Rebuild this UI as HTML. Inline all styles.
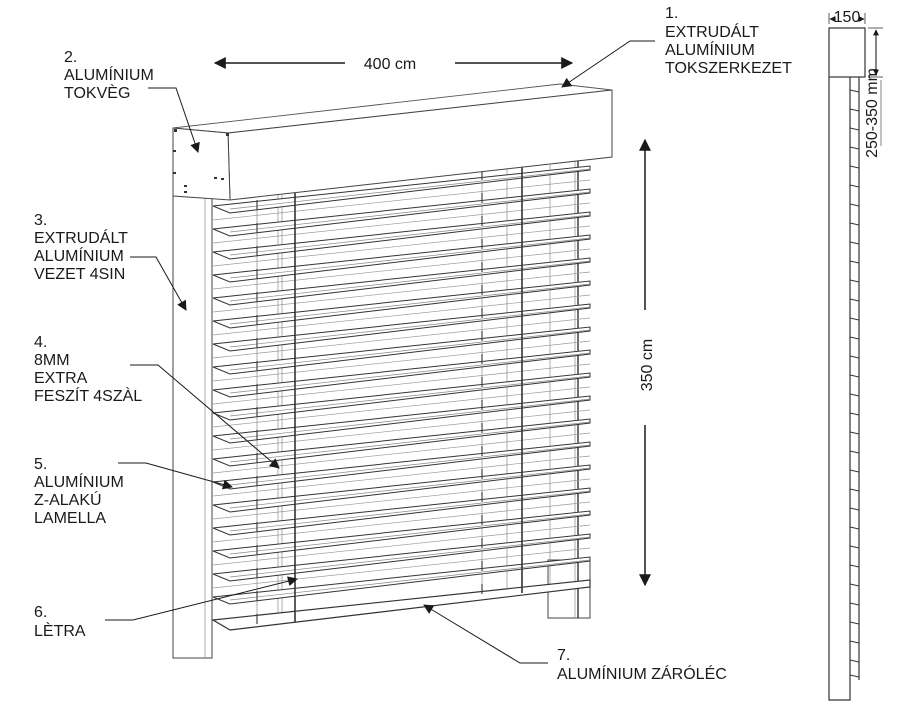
<!DOCTYPE html>
<html><head><meta charset="utf-8">
<style>
html,body{margin:0;padding:0;background:#fff;}
svg{display:block}
text{font-family:"Liberation Sans",Arial,sans-serif;fill:#1a1a1a;font-size:16px}
</style></head>
<body>
<svg width="900" height="707" viewBox="0 0 900 707" xmlns="http://www.w3.org/2000/svg">
<defs>
<marker id="ah" viewBox="0 0 10 10" refX="9" refY="5" markerWidth="13" markerHeight="10" orient="auto-start-reverse" markerUnits="userSpaceOnUse">
<path d="M0,0 L10,5 L0,10 z" fill="#1a1a1a"/></marker>
<marker id="as" viewBox="0 0 10 10" refX="9" refY="5" markerWidth="7" markerHeight="6" orient="auto-start-reverse" markerUnits="userSpaceOnUse">
<path d="M0,0 L10,5 L0,10 z" fill="#1a1a1a"/></marker>
<marker id="ab" viewBox="0 0 10 10" refX="9" refY="5" markerWidth="16" markerHeight="12" orient="auto-start-reverse" markerUnits="userSpaceOnUse">
<path d="M0,0 L10,5 L0,10 z" fill="#1a1a1a"/></marker>
<g id="slat">
<polygon points="213,-7 590,-47 590,-43 230,0" fill="#fff" stroke="#333" stroke-width="1"/>
<line x1="230" y1="-4" x2="590" y2="-44" stroke="#888" stroke-width="0.7"/>
<line x1="213" y1="-16" x2="590" y2="-56" stroke="#999" stroke-width="0.7"/>
</g>
<g id="tick"><line x1="850" y1="0" x2="859" y2="2" stroke="#333" stroke-width="1"/></g>
</defs>

<rect x="173" y="196" width="39" height="462" fill="#fff" stroke="#444" stroke-width="1"/>
<line x1="205" y1="196" x2="205" y2="658" stroke="#888" stroke-width="0.7"/>
<rect x="548" y="560" width="42" height="58" fill="#fff" stroke="#444" stroke-width="1"/>

<g stroke="#999" stroke-width="0.8">
<line x1="257" y1="200" x2="257" y2="625"/>
<line x1="278" y1="195" x2="278" y2="622"/>
<line x1="282" y1="195" x2="282" y2="622"/>
<line x1="482" y1="170" x2="482" y2="598"/>
<line x1="507" y1="168" x2="507" y2="595"/>
<line x1="550" y1="165" x2="550" y2="590"/>
<line x1="575" y1="160" x2="575" y2="618"/>
</g>
<line x1="578" y1="160" x2="578" y2="618" stroke="#333" stroke-width="1.4"/>

<use href="#slat" transform="translate(0,213)"/>
<use href="#slat" transform="translate(0,236)"/>
<use href="#slat" transform="translate(0,259)"/>
<use href="#slat" transform="translate(0,282)"/>
<use href="#slat" transform="translate(0,305)"/>
<use href="#slat" transform="translate(0,328)"/>
<use href="#slat" transform="translate(0,351)"/>
<use href="#slat" transform="translate(0,374)"/>
<use href="#slat" transform="translate(0,397)"/>
<use href="#slat" transform="translate(0,420)"/>
<use href="#slat" transform="translate(0,443)"/>
<use href="#slat" transform="translate(0,466)"/>
<use href="#slat" transform="translate(0,489)"/>
<use href="#slat" transform="translate(0,512)"/>
<use href="#slat" transform="translate(0,535)"/>
<use href="#slat" transform="translate(0,558)"/>
<use href="#slat" transform="translate(0,581)"/>
<use href="#slat" transform="translate(0,604)"/>
<polygon points="213,620 590,580 590,587 230,630" fill="#fff" stroke="#333" stroke-width="1.2"/>

<line x1="295" y1="190" x2="295" y2="622" stroke="#333" stroke-width="1.6"/>
<line x1="522" y1="165" x2="522" y2="593" stroke="#333" stroke-width="1.6"/>
<line x1="257" y1="200" x2="257" y2="625" stroke="#444" stroke-width="1.2" stroke-dasharray="10,13"/>
<line x1="482" y1="170" x2="482" y2="598" stroke="#444" stroke-width="1.2" stroke-dasharray="10,13"/>

<polygon points="173,128 560,84 612,90 228,133" fill="#fff" stroke="#555" stroke-width="0.9"/>
<polygon points="228,133 612,90 612,157 230,200" fill="#fff" stroke="#444" stroke-width="1"/>
<polygon points="173,128 228,133 230,200 173,196" fill="#fff" stroke="#444" stroke-width="1"/>
<g fill="#333">
<rect x="174" y="129" width="3" height="3"/><rect x="226" y="133" width="3" height="3"/>
<rect x="173" y="150" width="3" height="2"/><rect x="173" y="172" width="3" height="2"/>
<rect x="214" y="177" width="3" height="2"/><rect x="221" y="178" width="3" height="2"/>
<rect x="184" y="185" width="3" height="2"/><rect x="184" y="191" width="3" height="2"/>
</g>

<line x1="345" y1="63" x2="215" y2="63" stroke="#1a1a1a" stroke-width="1.5" marker-end="url(#ab)"/>
<line x1="455" y1="63" x2="572" y2="63" stroke="#1a1a1a" stroke-width="1.5" marker-end="url(#ab)"/>
<text x="390" y="69" font-size="18" text-anchor="middle">400 cm</text>
<line x1="645" y1="310" x2="645" y2="140" stroke="#1a1a1a" stroke-width="1.5" marker-end="url(#ab)"/>
<line x1="645" y1="425" x2="645" y2="585" stroke="#1a1a1a" stroke-width="1.5" marker-end="url(#ab)"/>
<text x="0" y="0" font-size="18" text-anchor="middle" transform="translate(652,365) rotate(-90)">350 cm</text>

<g stroke="#1a1a1a" stroke-width="1" fill="none">
<polyline points="655,41 630,41 562,87" marker-end="url(#ah)"/>
<polyline points="148,88 176,88 198,152" marker-end="url(#ah)"/>
<polyline points="130,257 156,257 186,310" marker-end="url(#ah)"/>
<polyline points="130,365 158,365 279,468" marker-end="url(#ah)"/>
<polyline points="118,463 146,463 232,487" marker-end="url(#ah)"/>
<polyline points="105,620 133,620 297,579" marker-end="url(#ah)"/>
<polyline points="548,663 520,663 424,605" marker-end="url(#ah)"/>
</g>

<text x="665" y="18">1.</text>
<text x="665" y="37">EXTRUDÁLT</text>
<text x="665" y="55">ALUMÍNIUM</text>
<text x="665" y="73">TOKSZERKEZET</text>

<text x="64" y="62">2.</text>
<text x="64" y="80">ALUMÍNIUM</text>
<text x="64" y="98">TOKVÈG</text>

<text x="34" y="225">3.</text>
<text x="34" y="243">EXTRUDÁLT</text>
<text x="34" y="261">ALUMÍNIUM</text>
<text x="34" y="279">VEZET 4SIN</text>

<text x="34" y="347">4.</text>
<text x="34" y="365">8MM</text>
<text x="34" y="383">EXTRA</text>
<text x="34" y="401">FESZÍT 4SZÀL</text>

<text x="34" y="469">5.</text>
<text x="34" y="487">ALUMÍNIUM</text>
<text x="34" y="505">Z-ALAKÚ</text>
<text x="34" y="523">LAMELLA</text>

<text x="34" y="617">6.</text>
<text x="34" y="636">LÈTRA</text>

<text x="557" y="660">7.</text>
<text x="557" y="679">ALUMÍNIUM ZÁRÓLÉC</text>

<rect x="829" y="28" width="36" height="49" fill="#fff" stroke="#333" stroke-width="1.2"/>
<polyline points="829,77 829,700 850,700 850,77" fill="none" stroke="#333" stroke-width="1.2"/>
<line x1="859" y1="77" x2="859" y2="680" stroke="#333" stroke-width="1.2"/>
<g>
<use href="#tick" transform="translate(0,90)"/><use href="#tick" transform="translate(0,109)"/>
<use href="#tick" transform="translate(0,128)"/><use href="#tick" transform="translate(0,147)"/>
<use href="#tick" transform="translate(0,166)"/><use href="#tick" transform="translate(0,185)"/>
<use href="#tick" transform="translate(0,204)"/><use href="#tick" transform="translate(0,223)"/>
<use href="#tick" transform="translate(0,242)"/><use href="#tick" transform="translate(0,261)"/>
<use href="#tick" transform="translate(0,280)"/><use href="#tick" transform="translate(0,299)"/>
<use href="#tick" transform="translate(0,318)"/><use href="#tick" transform="translate(0,337)"/>
<use href="#tick" transform="translate(0,356)"/><use href="#tick" transform="translate(0,375)"/>
<use href="#tick" transform="translate(0,394)"/><use href="#tick" transform="translate(0,413)"/>
<use href="#tick" transform="translate(0,432)"/><use href="#tick" transform="translate(0,451)"/>
<use href="#tick" transform="translate(0,470)"/><use href="#tick" transform="translate(0,489)"/>
<use href="#tick" transform="translate(0,508)"/><use href="#tick" transform="translate(0,527)"/>
<use href="#tick" transform="translate(0,546)"/><use href="#tick" transform="translate(0,565)"/>
<use href="#tick" transform="translate(0,584)"/><use href="#tick" transform="translate(0,603)"/>
<use href="#tick" transform="translate(0,622)"/><use href="#tick" transform="translate(0,641)"/>
<use href="#tick" transform="translate(0,660)"/><use href="#tick" transform="translate(0,675)"/>
</g>
<line x1="829" y1="13" x2="829" y2="24" stroke="#333" stroke-width="0.8"/>
<line x1="865" y1="13" x2="865" y2="24" stroke="#333" stroke-width="0.8"/>
<line x1="830" y1="19" x2="836" y2="19" stroke="#333" stroke-width="1" marker-start="url(#as)"/>
<line x1="858" y1="19" x2="864" y2="19" stroke="#333" stroke-width="1" marker-end="url(#as)"/>
<text x="847" y="22" font-size="10" text-anchor="middle">150</text>
<line x1="868" y1="28" x2="883" y2="28" stroke="#333" stroke-width="0.8"/>
<line x1="868" y1="77" x2="883" y2="77" stroke="#333" stroke-width="0.8"/>
<line x1="876" y1="30" x2="876" y2="75" stroke="#333" stroke-width="1.2" marker-start="url(#as)" marker-end="url(#as)"/>
<text x="0" y="0" font-size="8" text-anchor="middle" transform="translate(877,113) rotate(-90)">250-350 mm</text>
<line x1="881" y1="80" x2="881" y2="146" stroke="#333" stroke-width="0.6"/>
</svg>
</body></html>
